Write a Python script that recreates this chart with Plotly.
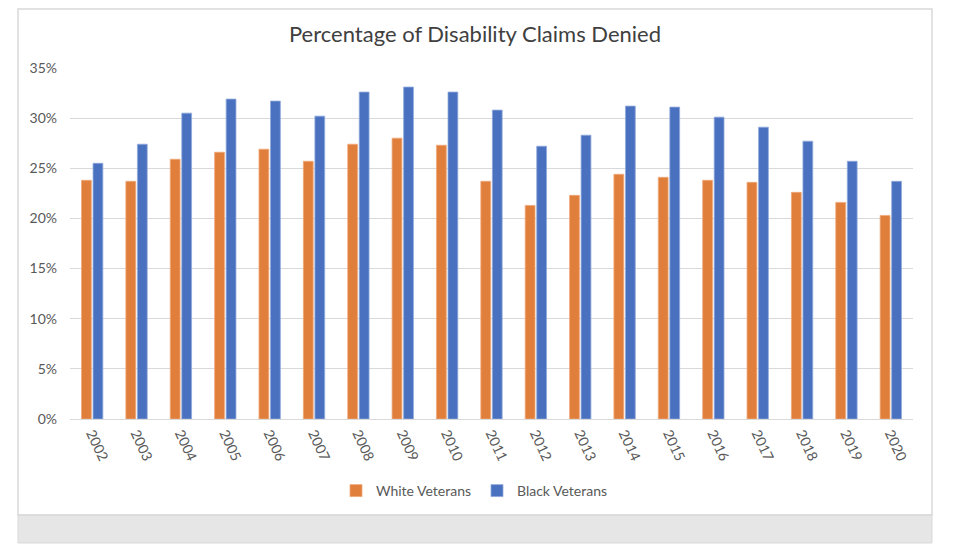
import plotly.graph_objects as go

years = [str(y) for y in range(2002, 2021)]
white_veterans = [23.8, 23.7, 25.9, 26.6, 26.9, 25.7, 27.4, 28.0, 27.3, 23.7,
                  21.3, 22.3, 24.4, 24.1, 23.8, 23.6, 22.6, 21.6, 20.3]
black_veterans = [25.5, 27.4, 30.5, 31.9, 31.7, 30.2, 32.6, 33.1, 32.6, 30.8,
                  27.2, 28.3, 31.2, 31.1, 30.1, 29.1, 27.7, 25.7, 23.7]
y_ticks = [0, 5, 10, 15, 20, 25, 30, 35]
y_ticklabels = [f"{v}%" for v in y_ticks]

FONT = "Lato"
TXT = "#595959"

# page body has an 8px margin; work in window pixels and offset
OFF = 8
W, H = 960 - OFF, 555 - OFF
L, R, T, B = 70 - OFF, 913 - OFF, 68 - OFF, 419 - OFF

def px(xw):
    return (xw - OFF - L) / (R - L)

def py(yw):
    return (B - (yw - OFF)) / (B - T)

fig = go.Figure()
fig.add_trace(go.Bar(x=years, y=white_veterans, name="White Veterans",
                     marker=dict(color="#E07E3C", line=dict(color="#F0A878", width=0.8))))
fig.add_trace(go.Bar(x=years, y=black_veterans, name="Black Veterans",
                     marker=dict(color="#4A71BF", line=dict(color="#8FA9DC", width=0.8))))

shapes = [
    dict(type="rect", xref="paper", yref="paper", x0=px(18), x1=px(932), y0=py(543), y1=py(515),
         fillcolor="#E6E6E6", line=dict(color="#D9D9D9", width=1), layer="below"),
    dict(type="rect", xref="paper", yref="paper", x0=px(18), x1=px(932), y0=py(515), y1=py(9),
         fillcolor="rgba(0,0,0,0)", line=dict(color="#D9D9D9", width=1.5), layer="below"),
]

fig.update_layout(
    width=W, height=H,
    margin=dict(l=L, r=W - R, t=T, b=H - B, autoexpand=False),
    paper_bgcolor="white", plot_bgcolor="white",
    barmode="group", bargap=0.48, bargroupgap=0.15,
    title=dict(text="Percentage of Disability Claims Denied", x=px(475), xanchor="center",
               xref="paper", y=1 - (34 - OFF) / H, yanchor="middle",
               font=dict(family=FONT, size=22, color="#404040")),
    font=dict(family=FONT, size=14, color=TXT),
    showlegend=True,
    legend=dict(orientation="h", x=px(477), xanchor="center", y=py(491), yanchor="middle",
                font=dict(family=FONT, size=14, color=TXT), itemwidth=30,
                entrywidth=96, entrywidthmode="pixels",
                traceorder="normal", bgcolor="rgba(0,0,0,0)"),
    xaxis=dict(type="category", tickangle=65, showgrid=False, showline=True,
               linecolor="#D9D9D9", linewidth=1, ticks="",
               tickfont=dict(family=FONT, size=14, color=TXT)),
    yaxis=dict(range=[0, 35], tickvals=y_ticks, ticktext=y_ticklabels,
               showgrid=True, gridcolor="#D9D9D9", gridwidth=1, zeroline=False,
               showline=False, ticks="", ticklabelstandoff=12,
               tickfont=dict(family=FONT, size=14, color=TXT)),
    shapes=shapes,
)

fig.write_html("out.html")
